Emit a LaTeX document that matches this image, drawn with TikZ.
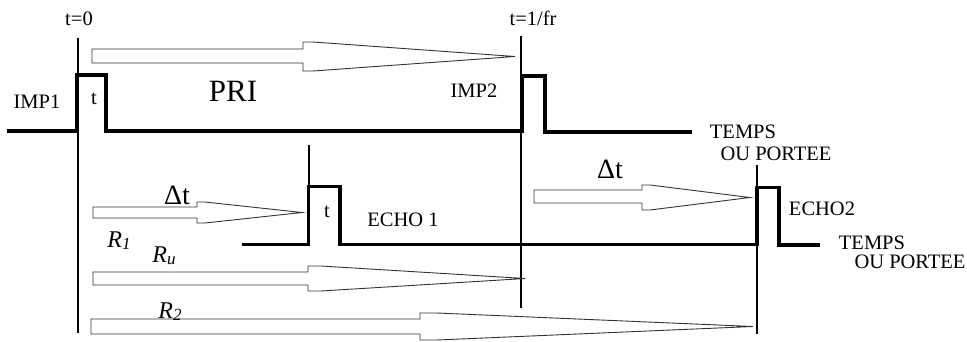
\documentclass[tikz,border=0pt]{standalone}
\usepackage{fontspec}
\setmainfont{Liberation Serif}
\newcommand{\rsub}[1]{{\itshape R\raisebox{-2pt}{\fontsize{17}{17}\selectfont #1}}}
\begin{document}
\begin{tikzpicture}[x=1pt,y=-1pt,
  wave/.style={line width=3.6pt,line join=miter,line cap=butt},
  vline/.style={line width=1.3pt},
  hollowarr/.style={draw=black!80,line width=0.9pt,fill=white,line join=miter},
  lbl/.style={inner sep=0pt,font=\fontsize{20.5}{20.5}\selectfont},
  biglbl/.style={inner sep=0pt,font=\fontsize{31}{31}\selectfont},
  dtlbl/.style={inner sep=0pt,font=\fontsize{28}{28}\selectfont},
  rlbl/.style={inner sep=0pt,font=\fontsize{24}{24}\selectfont}]
\useasboundingbox (0,0) rectangle (967,341);

% vertical time markers
\coordinate (v0top) at (78,38);   \coordinate (v0bot) at (78,333);
\coordinate (v1top) at (521,36);  \coordinate (v1bot) at (521,308);
\coordinate (e1top) at (309,145); \coordinate (e1bot) at (309,187);
\coordinate (e2top) at (757,165); \coordinate (e2bot) at (757,334);
\draw[vline] (v0top) -- (v0bot);
\draw[vline] (v1top) -- (v1bot);
\draw[vline] (e1top) -- (e1bot);
\draw[vline] (e2top) -- (e2bot);

% hollow tapered arrows
\draw[hollowarr] (92,49) -- (303,49) -- (303,42) -- (313,42) -- (515,56.5) -- (313,71) -- (303,71) -- (303,63) -- (92,63) -- cycle;
\draw[hollowarr] (93,207) -- (197,207) -- (197,202) -- (205,202) -- (302,212.5) -- (205,223) -- (197,223) -- (197,218) -- (93,218) -- cycle;
\draw[hollowarr] (534,190) -- (642,190) -- (642,185) -- (650,185) -- (750,197.5) -- (650,210) -- (642,210) -- (642,203) -- (534,203) -- cycle;
\draw[hollowarr] (93,272) -- (308,272) -- (308,266) -- (321,266) -- (525,278.5) -- (321,291) -- (308,291) -- (308,285) -- (93,285) -- cycle;
\draw[hollowarr] (91,319) -- (420,319) -- (420,313) -- (437,313) -- (753,326.5) -- (437,340) -- (420,340) -- (420,334) -- (91,334) -- cycle;

% waveforms
\draw[wave] (7,131) -- (77,131) -- (77,75) -- (106,75) -- (106,131) -- (522,131) -- (522,76) -- (545,76) -- (545,132) -- (692,132);
\draw[wave] (242,244.5) -- (308.5,244.5) -- (308.5,186.5) -- (340,186.5) -- (340,244.5) -- (757,244.5) -- (757,187.5) -- (779,187.5) -- (779,245) -- (820,245);

% labels
\node[lbl] (t0) at (79,19) {t=0};
\node[lbl] (tfr) at (533,18) {t=1/fr};
\node[lbl] (imp1) at (37,102) {IMP1};
\node[lbl] (tp1) at (94,99) {t};
\node[biglbl] (pri) at (233,91) {PRI};
\node[lbl] (imp2) at (474,91) {IMP2};
\node[lbl] (temps1) at (743,132) {TEMPS};
\node[lbl] (ou1) at (776,154) {OU PORTEE};
\node[lbl] (echo2) at (822,209) {ECHO2};
\node[lbl] (temps2) at (872,243) {TEMPS};
\node[lbl] (ou2) at (910,262) {OU PORTEE};
\node[dtlbl] (dt1) at (177,195) {Δt};
\node[dtlbl] (dt2) at (610,169) {Δt};
\node[lbl] (tp2) at (327,212) {t};
\node[lbl] (echo1) at (403,220) {ECHO 1};
\node[rlbl] (r1) at (119,241) {\rsub{1}};
\node[rlbl] (ru) at (164,256) {\rsub{u}};
\node[rlbl] (r2) at (170,312) {\rsub{2}};
\end{tikzpicture}
\end{document}
